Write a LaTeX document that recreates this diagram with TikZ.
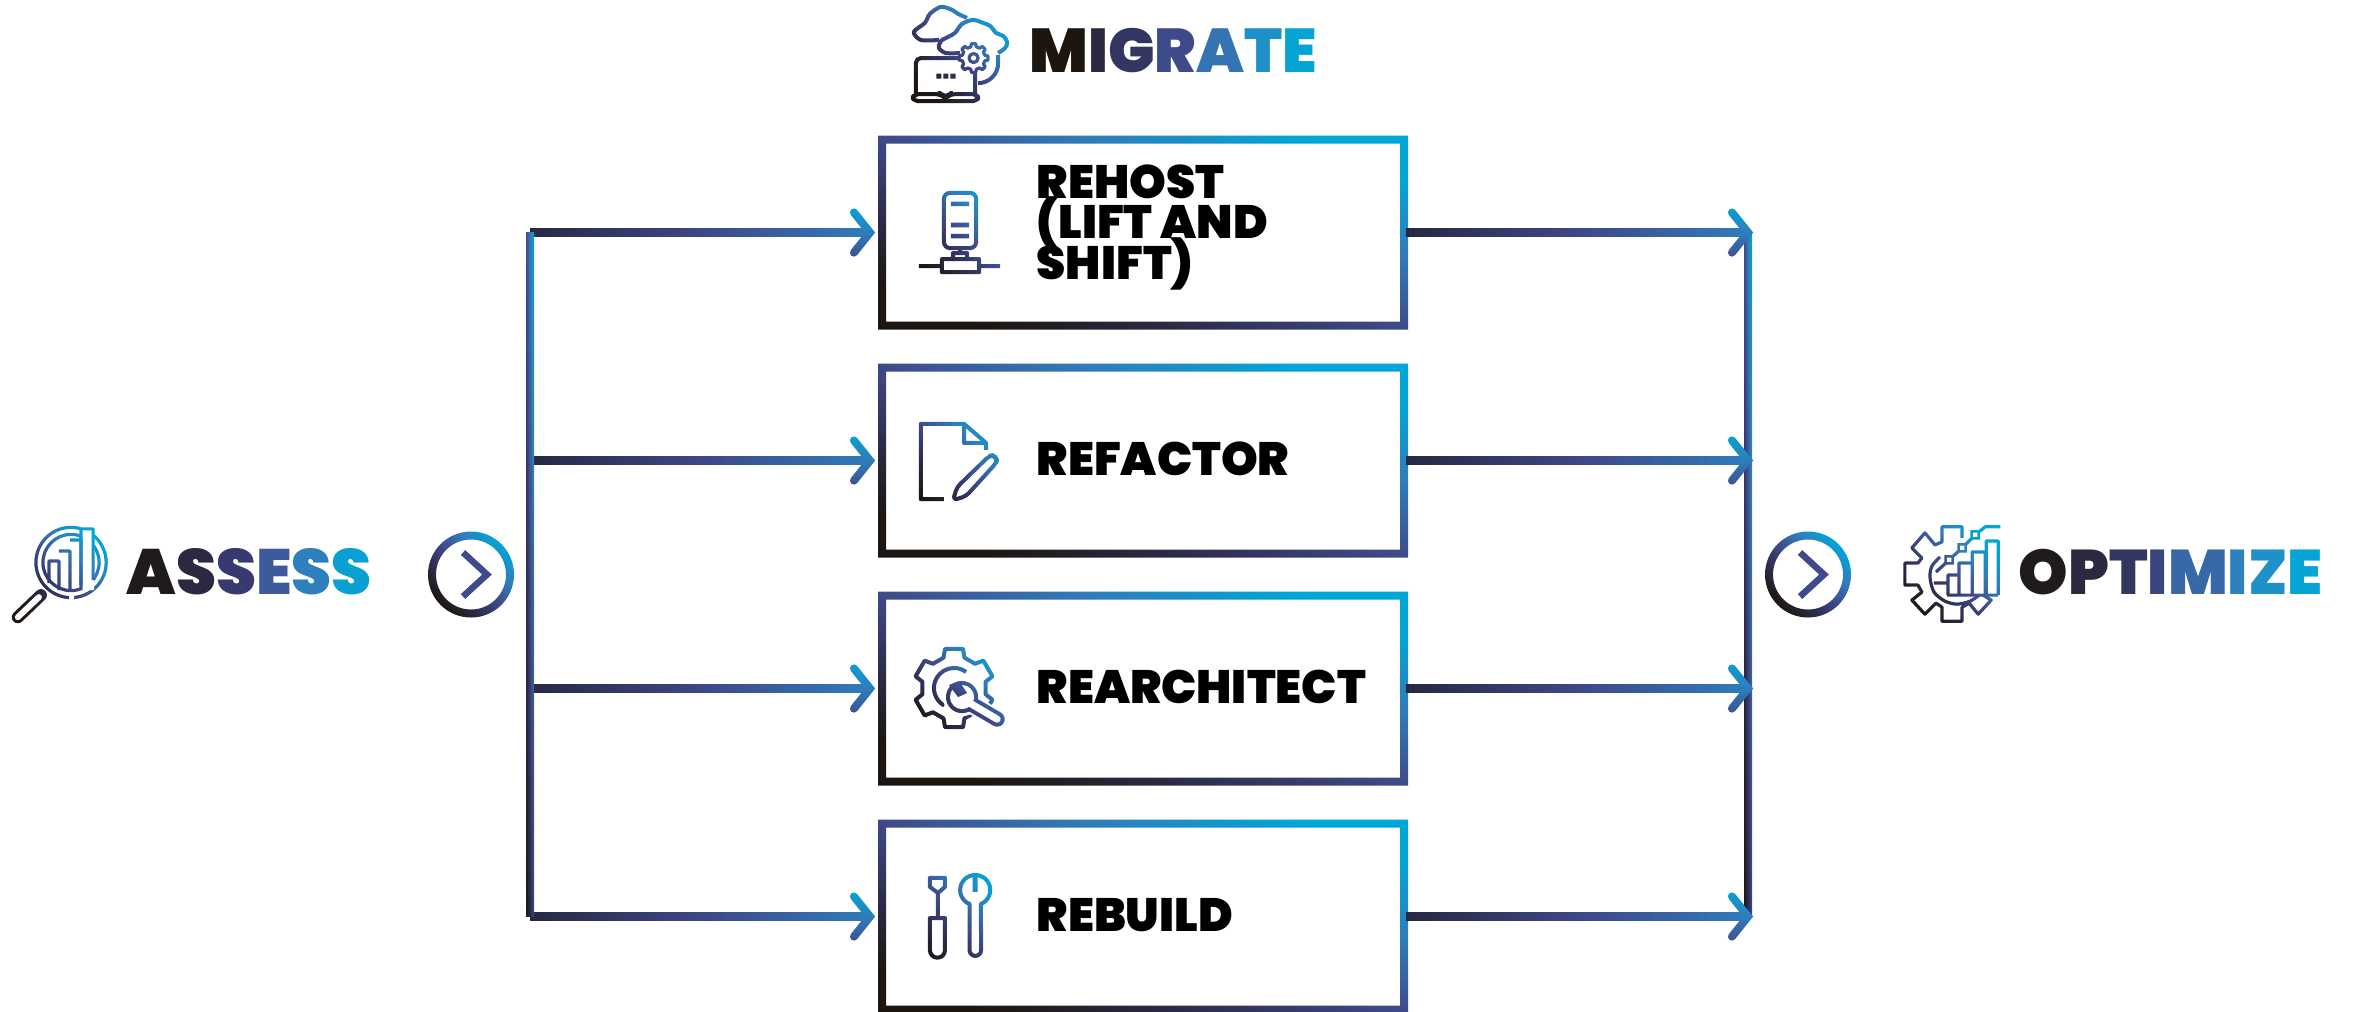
\documentclass[tikz,border=0pt]{standalone}
\usepackage{fontspec}
\setmainfont{Poppins}[UprightFont={* Black}]
\usetikzlibrary{arrows.meta}
\usetikzlibrary{calc}
\usetikzlibrary{fadings}
\usetikzlibrary{shadings}

\definecolor{gradA}{HTML}{1D1610}
\definecolor{gradB}{HTML}{2D2D4D}
\definecolor{gradC}{HTML}{3F4A8A}
\definecolor{gradD}{HTML}{2F7DBB}
\definecolor{gradE}{HTML}{00A6D6}
\definecolor{linkA}{HTML}{272843}

\pgfdeclarehorizontalshading{stagegrad}{100bp}{color(0bp)=(gradA); color(25bp)=(gradA); color(37.5bp)=(gradB); color(50bp)=(gradC); color(62.5bp)=(gradD); color(75bp)=(gradE); color(100bp)=(gradE)}
\pgfdeclarehorizontalshading{icongrad}{100bp}{color(0bp)=(gradA); color(36bp)=(gradA); color(43bp)=(gradB); color(50bp)=(gradC); color(57bp)=(gradD); color(64bp)=(gradE); color(100bp)=(gradE)}
\pgfdeclarehorizontalshading{linkgrad}{100bp}{color(0bp)=(linkA); color(25bp)=(linkA); color(52bp)=(gradC); color(75bp)=(gradD); color(100bp)=(gradD)}
\pgfdeclareverticalshading{chevrongrad}{100bp}{color(0bp)=(gradC); color(42bp)=(gradC); color(50bp)=(gradD); color(58bp)=(gradE); color(100bp)=(gradE)}

\tikzset{
    iconpic/.style={x=0.1mm, y=-0.1mm},
    iconline/.style={transparent!0, line width=0.4mm, line join=round},
    iconthin/.style={transparent!0, line width=0.32mm, line join=round},
    iconerase/.style={transparent!100},
    iconpaint/.style={shading=icongrad, shading angle=45},
    stagebox/.style={rectangle, inner sep=0pt, outer sep=0pt, minimum width=52.2mm, minimum height=18.6mm},
    stagelabel/.style={anchor=base west, inner sep=0pt, align=left, font=\fontsize{13.3}{11.4}\selectfont},
    headlabel/.style={anchor=base west, inner sep=0pt, font=\fontsize{17.6}{20}\selectfont},
    gomark/.style={circle, inner sep=0pt, minimum size=7.8mm},
    linkbase/.style={color=gradD, line width=0.5mm, -{Straight Barb[length=1.5mm, width=3.6mm, round]}, shorten >=-0.3mm},
    busbase/.style={color=gradC, line width=0.6mm},
    gochevron/.style={color=gradC, line width=0.65mm}
}

\newcommand{\lc}[2]{\textcolor[HTML]{#1}{#2}}

\newcommand{\gearline}[6]{
    \draw [shift={(#1)}, #6] (-#5:#3) \foreach \a in {0,#2,...,359} {-- (\a-#5:#3) -- (\a+#5:#3) -- (\a+#5+6:#4) -- (\a+#2-#5-6:#4)} -- cycle;
}

\begin{tikzfadingfrompicture}[name=chevronfade, iconpic]
    \path (-26,-26) rectangle (26,26);
    \draw [transparent!0, line width=0.8mm, line cap=round] (-16,-20) -- (0,0) -- (-16,20);
\end{tikzfadingfrompicture}

\begin{tikzfadingfrompicture}[name=migratefade, iconpic]
    \path (905,0) rectangle (1015,105);
    \draw [iconline] plot [smooth] coordinates {(939,40) (921,40) (914,32) (925,23) (930,14) (941,7) (952,10) (958,14) (967,18)};
    \draw [iconline] plot [smooth] coordinates {(998,53) (1005,48) (1007,42) (1003,36) (996,33) (990,26) (983,23) (973,20) (962,24) (955,33) (948,37) (941,41) (939,48) (946,53) (960,53)};
    \draw [iconline, rounded corners=2mm] (998,55) -- (998,83) -- (978,83);
    \draw [iconline, rounded corners=0.5mm] (960,58) -- (916,58) -- (916,94);
    \draw [iconline] (975,70) -- (975,94);
    \draw [iconline, rounded corners=0.5mm] (913,94) -- (941,94) -- (943,96) -- (948,96) -- (950,94) -- (978,94) -- (978,101) -- (913,101) -- cycle;
    \foreach \x in {939,946,953} \fill [transparent!0] (\x-2.5,73.5) rectangle (\x+2.5,78.5);
    \fill [iconerase] (973.5,58) circle (13);
    \gearline{973.5,58}{45}{14.5}{11.5}{8}{iconthin}
    \draw [iconthin] (973.5,58) circle (4.5);
\end{tikzfadingfrompicture}

\begin{tikzfadingfrompicture}[name=rehostfade, iconpic]
    \path (910,185) rectangle (1010,280);
    \draw [iconline, rounded corners=0.6mm] (944,248) -- (944,193) -- (976,193) -- (976,248) -- cycle;
    \foreach \y in {204,225,236} \draw [transparent!0, line width=0.45mm] (951,\y) -- (969,\y);
    \draw [iconline] (960,248) -- (960,253);
    \draw [iconline] (953,258) -- (953,253) -- (967,253) -- (967,258);
    \draw [iconline] (942,259) rectangle (979,272);
    \draw [iconline] (919,266) -- (942,266);
    \draw [iconline] (979,266) -- (1000,266);
\end{tikzfadingfrompicture}

\begin{tikzfadingfrompicture}[name=refactorfade, iconpic]
    \path (912,415) rectangle (1005,510);
    \draw [iconline] (944,499) -- (921,499) -- (921,424) -- (964,424) -- (986,443) -- (986,450);
    \draw [iconline] (964,424) -- (964,443) -- (986,443);
    \draw [iconline, rounded corners=0.4mm] (957,487) -- (989,456) -- (993,455) -- (997,459) -- (996,463) -- (966,496) -- (953,500) -- cycle;
\end{tikzfadingfrompicture}

\begin{tikzfadingfrompicture}[name=rearchitectfade, iconpic]
    \path (905,640) rectangle (1010,735);
    \gearline{954,688}{60}{40}{32}{13}{iconline, rotate=30}
    \draw [iconline] (954,688) ++(119:20) arc (119:307:20);
    \fill [iconerase] (962,697) circle (19);
    \draw [iconerase, line width=1.9mm, line cap=round] (968,702) -- (997,719);
    \draw [transparent!0, line width=1.5mm, line cap=round] (968,702) -- (997,719);
    \fill [transparent!0] (962,697) circle (16);
    \draw [iconerase, line width=0.7mm, line cap=round] (968,702) -- (997,719);
    \fill [iconerase] (962,697) circle (12);
    \fill [transparent!0] (949,685) -- (959,681) -- (967,693) -- (958,697) -- cycle;
\end{tikzfadingfrompicture}

\begin{tikzfadingfrompicture}[name=rebuildfade, iconpic]
    \path (920,870) rectangle (995,965);
    \draw [iconline] (930,878) -- (945,878) -- (945,887) -- (938,893) -- (930,887) -- cycle;
    \draw [iconline] (938,893) -- (938,918);
    \draw [iconline] (930,918) -- (945,918) -- (945,950) arc (0:180:7.5) -- cycle;
    \draw [iconline] (969.5,904) arc (112:428:15) -- (981,950) arc (0:180:5.75) -- cycle;
    \draw [transparent!0, line width=0.5mm] (975,877) -- (975,892);
\end{tikzfadingfrompicture}

\begin{tikzfadingfrompicture}[name=assessfade, iconpic]
    \path (5,520) rectangle (115,625);
    \draw [iconthin] (71,562.5) circle (35);
    \draw [iconthin] (71,562.5) circle (28);
    \fill [iconerase] (81,522) rectangle (94,590);
    \fill [iconerase] (69,594) rectangle (74,602);
    \draw [iconthin] (49,583) -- (49,561) -- (59,561) -- (59,590);
    \draw [iconthin] (59,551) -- (70,551) -- (70,591);
    \draw [iconthin] (70,540) -- (81,540) -- (81,590);
    \draw [iconthin] (81,585) -- (81,529) -- (93,529) -- (93,580);
    \draw [transparent!0, line width=1.2mm, line cap=round] (41,595) -- (18,617);
    \draw [iconerase, line width=0.6mm, line cap=round] (39,597) -- (18,617);
\end{tikzfadingfrompicture}

\begin{tikzfadingfrompicture}[name=optimizefade, iconpic]
    \path (1895,515) rectangle (2005,630);
    \draw [iconthin] (1962,538) -- (1962,527) -- (1942,527) -- (1942,542) -- (1935,545) -- (1925,533) -- (1912,548) -- (1922,558) -- (1918,563) -- (1905,563) -- (1905,585) -- (1918,585) -- (1922,592) -- (1912,600) -- (1925,614) -- (1936,603) -- (1942,607) -- (1942,621) -- (1962,621) -- (1962,607) -- (1969,603) -- (1978,614) -- (1991,600) -- (1983,595);
    \draw [iconthin] plot [smooth] coordinates {(1940,557) (1932,566) (1930,577) (1934,592) (1945,601) (1957,604) (1970,601) (1979,595)};
    \draw [iconthin] (1934,583) -- (1948,583);
    \draw [iconthin] (1947,595) -- (1998,595);
    \draw [iconthin] (1948,595) -- (1948,575) -- (1959,575) -- (1959,595);
    \draw [iconthin] (1959,575) -- (1959,563) -- (1972,563) -- (1972,595);
    \draw [iconthin] (1972,563) -- (1972,552) -- (1985,552) -- (1985,595);
    \draw [iconthin] (1986,595) -- (1986,541) -- (1998,541) -- (1998,595);
    \draw [iconthin] (1936,572) -- (1949,560) -- (1962,548) -- (1975,535) -- (1985,527) -- (2000,527);
    \foreach \p in {{1949,560},{1962,548},{1975,535}} {
        \fill [iconerase] ($(\p)+(-3.5,-3.5)$) rectangle ($(\p)+(3.5,3.5)$);
        \draw [transparent!0, line width=0.25mm] ($(\p)+(-3.5,-3.5)$) rectangle ($(\p)+(3.5,3.5)$);
    }
\end{tikzfadingfrompicture}

\newcommand{\painticon}[2]{
    \shade [iconpaint, path fading=#1] ($(#2)+(-88.19,-88.19)$) rectangle ($(#2)+(88.19,88.19)$);
}

\newcommand{\gradlink}[2]{
    \draw [linkbase] (#1) -- (#2);
    \shade [shading=linkgrad] ($(#1)+(0,-4)$) rectangle ($(#2)+(0,4)$);
    \shade [shading=chevrongrad, path fading=chevronfade] ($(#2)+(-88.19,-88.19)$) rectangle ($(#2)+(88.19,88.19)$);
}

\newcommand{\gradbus}[2]{
    \draw [busbase] (#1) -- (#2);
    \shade [shading=stagegrad, shading angle=0.7] ($(#1)+(-4,0)$) rectangle ($(#2)+(4,0)$);
}

\begin{document}
\begin{tikzpicture}[x=0.1mm, y=-0.1mm]

    \useasboundingbox (0,0) rectangle (2354,1011);

    \matrix [row sep=4.2mm] at (1143,574.5) {
        \node (rehost) [stagebox] {}; \\
        \node (refactor) [stagebox] {}; \\
        \node (rearchitect) [stagebox] {}; \\
        \node (rebuild) [stagebox] {}; \\
    };

    \foreach \stage in {rehost, refactor, rearchitect, rebuild} {
        \path [shade, shading=stagegrad, shading angle=70, even odd rule]
            ($(\stage.south west)+(-4,4)$) rectangle ($(\stage.north east)+(4,-4)$)
            ($(\stage.south west)+(4,-4)$) rectangle ($(\stage.north east)+(-4,4)$);
    }

    \node (rehostlabel) [stagelabel, execute at begin node=\setlength{\lineskiplimit}{-20pt}] at (1036,279) {REHOST\\(LIFT AND\\SHIFT)};
    \node (refactorlabel) [stagelabel] at (1036,475) {REFACTOR};
    \node (rearchitectlabel) [stagelabel] at (1036,703) {REARCHITECT};
    \node (rebuildlabel) [stagelabel] at (1036,931) {REBUILD};

    \node (migrate) [headlabel] at (1029,72) {\lc{1D1610}{M}\lc{2A2940}{I}\lc{333660}{G}\lc{3F4A8A}{R}\lc{3474B3}{A}\lc{1E90C8}{T}\lc{05A4D4}{E}};
    \node (assess) [headlabel, font=\fontsize{18.2}{20}\selectfont] at (126,594) {\lc{1F1A1E}{A}\lc{2A2940}{S}\lc{363A70}{S}\lc{3C5A9C}{E}\lc{2D80BD}{S}\lc{0AA0D3}{S}};
    \node (optimize) [headlabel, font=\fontsize{17.9}{20}\selectfont] at (2018,594) {\lc{1F1A1E}{O}\lc{2A2940}{P}\lc{333660}{T}\lc{3A4580}{I}\lc{3868A8}{M}\lc{3180BE}{I}\lc{1F90C8}{Z}\lc{05A4D4}{E}};

    \node (assessmark) [gomark] at (471,574.5) {};
    \node (optimizemark) [gomark] at (1808,574.5) {};
    \foreach \mark in {assessmark, optimizemark} {
        \path [shade, shading=stagegrad, shading angle=45, even odd rule] (\mark) circle (43) circle (35);
        \draw [gochevron] ($(\mark)+(-8,-22)$) -- ($(\mark)+(16,0)$) -- ($(\mark)+(-8,22)$);
    }

    \coordinate (inbus) at (530,574);
    \coordinate (outbus) at (1748,574);

    \gradbus{outbus |- rehost.east}{outbus |- rebuild.east}
    \foreach \stage in {rehost, refactor, rearchitect, rebuild} {
        \coordinate (\stage in) at ($(\stage.west)+(-12,0)$);
        \coordinate (\stage out) at ($(\stage.east)+(2,0)$);
        \gradlink{inbus |- \stage.west}{\stage in}
        \gradlink{\stage out}{outbus |- \stage.east}
    }
    \gradbus{inbus |- rehost.west}{inbus |- rebuild.west}

    \painticon{migratefade}{960,52.5}
    \painticon{rehostfade}{960,232.5}
    \painticon{refactorfade}{958.5,462.5}
    \painticon{rearchitectfade}{957.5,687.5}
    \painticon{rebuildfade}{957.5,917.5}
    \painticon{assessfade}{60,572.5}
    \painticon{optimizefade}{1950,572.5}

\end{tikzpicture}
\end{document}
